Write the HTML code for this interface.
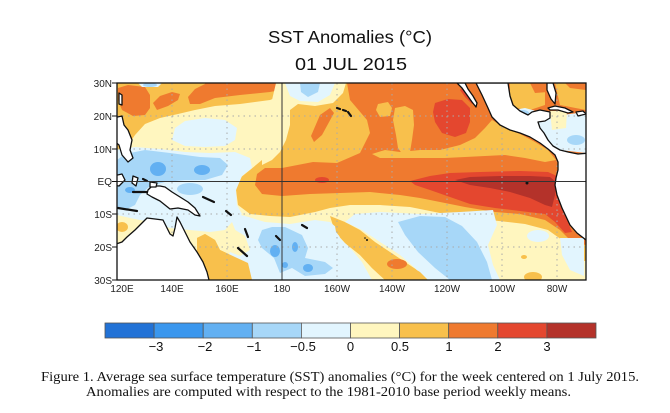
<!DOCTYPE html>
<html><head><meta charset="utf-8"><style>
html,body{margin:0;padding:0;background:#fff;width:670px;height:413px;overflow:hidden}
svg{display:block}
</style></head><body>
<svg width="670" height="413" viewBox="0 0 670 413" xmlns="http://www.w3.org/2000/svg">
<defs><clipPath id="mc"><rect x="117" y="83" width="469" height="197"/></clipPath></defs>

<!-- Title -->
<text x="350" y="43" text-anchor="middle" font-family="Liberation Sans, sans-serif" font-size="17.5" textLength="164" lengthAdjust="spacingAndGlyphs" fill="#111">SST Anomalies (°C)</text>
<text x="351" y="70" text-anchor="middle" font-family="Liberation Sans, sans-serif" font-size="17.5" textLength="112" lengthAdjust="spacingAndGlyphs" fill="#111">01  JUL  2015</text>

<g clip-path="url(#mc)">
<rect x="117" y="83" width="469" height="197" fill="#FFF6BF"/>

<!-- yellow-orange (0.5-1) -->
<g fill="#F8C04C">
<polygon points="117,83 292,83 290,92 270,100 240,104 215,106 195,110 178,114 160,118 145,124 135,135 128,145 117,150"/>
<polygon points="345,83 586,83 586,252 575,250 562,240 548,230 525,224 490,220 450,215 410,207 380,205 350,205 330,208 315,212 290,217 270,216 250,214 238,205 236,190 240,178 250,170 262,160 270,150 275,130 276,112 283,103 300,100 320,104 335,100 343,92"/>
<polygon points="330,216 345,222 360,230 375,242 390,252 405,262 420,272 428,280 385,280 372,268 360,255 345,243 335,232"/>
<polygon points="197,238 205,234 215,240 220,250 235,257 248,263 252,280 207,280 202,265 197,250"/>
<ellipse cx="121" cy="174" rx="7" ry="10"/>
<ellipse cx="122" cy="227" rx="6" ry="5"/>
<ellipse cx="533" cy="277" rx="9" ry="5"/>
<ellipse cx="524" cy="257" rx="3" ry="2"/>
<ellipse cx="584" cy="255" rx="4" ry="6"/>
</g>

<!-- orange (1-2) -->
<g fill="#EF7A2F">
<polygon points="118,88 128,85 145,87 150,95 150,108 145,115 133,116 122,110 118,100"/>
<polygon points="153,103 160,96 172,92 180,94 178,100 168,106 157,110"/>
<polygon points="188,97 195,89 205,84 205,83 292,83 290,88 270,92 240,95 215,98 200,104 190,104"/>
<polygon points="347,83 586,83 586,245 572,242 560,230 545,220 520,214 495,212 465,207 440,202 420,198 400,195 370,192 340,193 310,194 282,196 262,194 255,185 257,174 265,168 282,168 313,162 337,163 360,153 370,133 367,120 350,100"/>
<polygon points="330,108 334,113 322,135 314,142 311,136 320,115"/>
<ellipse cx="397" cy="264" rx="10" ry="5"/>
<ellipse cx="120" cy="174" rx="3" ry="5"/>
</g>

<!-- yellow-orange blobs inside orange -->
<g fill="#F8C04C">
<polygon points="378,104 388,102 392,108 390,116 380,117 376,110"/>
<polygon points="395,108 405,106 413,110 414,125 412,140 410,152 403,155 398,148 396,135 393,120"/>
<polygon points="372,154 385,150 400,152 420,150 440,150 460,145 475,138 485,128 492,120 505,128 520,134 535,142 548,150 556,160 545,162 525,158 505,155 485,156 465,157 445,158 420,158 400,158 380,158"/>
<polygon points="510,83 545,83 545,105 530,110 515,108 510,95"/>
<polygon points="555,83 586,83 586,110 560,105"/>
<ellipse cx="386" cy="155" rx="9" ry="3"/>
</g>
<g fill="#EF7A2F">
<polygon points="530,83 550,83 548,92 535,93"/>
<polygon points="565,83 586,83 586,90 570,88"/>
</g>

<!-- red (2-3) -->
<g fill="#E4472F">
<polygon points="435,103 448,99 462,100 470,108 470,122 466,133 455,137 442,133 435,122 433,112"/>
<polygon points="462,88 468,92 474,100 472,104 465,97 460,90"/>
<polygon points="410,181 430,176 450,173 480,172 520,171 548,172 557,176 556,190 560,205 567,220 572,232 565,233 555,222 545,214 520,211 495,208 470,204 450,197 430,190 415,185"/>
<ellipse cx="322" cy="180" rx="7" ry="3"/>
</g>
<!-- dark red (>3) -->
<polygon fill="#B4322A" points="455,180 470,177 500,176 530,176 550,177 556,182 555,195 552,207 545,205 530,198 510,192 490,188 470,185"/>

<!-- pale yellow top center -->
<polygon fill="#FFF6BF" points="276,83 346,83 343,93 333,103 315,106 298,104 290,110 290,125 286,140 280,152 272,160 262,165 262,140 268,118 272,100"/>

<!-- light cyan (-0.5-0) -->
<g fill="#E2F5FE">
<polygon points="285,83 335,83 330,95 318,102 300,101 290,96"/>
<polygon points="175,128 185,121 205,118 225,120 237,128 235,140 225,146 205,147 185,146 172,140"/>
<polygon points="138,83 162,83 158,87 142,87"/>
<polygon points="117,150 135,147 160,149 185,152 210,153 235,152 250,158 252,168 242,176 236,190 237,205 242,214 232,222 225,230 210,232 190,230 170,228 150,222 130,218 117,215"/>
<polygon points="228,212 245,216 265,222 290,224 315,220 330,222 337,228 340,238 352,250 362,262 372,280 225,280 225,262 232,248 236,232"/>
<polygon points="355,214 380,212 420,214 460,212 493,210 497,225 488,245 493,265 500,280 425,280 415,268 400,255 380,242 362,230 345,222"/>
<ellipse cx="538" cy="236" rx="11" ry="6"/>
<polygon points="560,238 584,238 584,276 570,270 562,255"/>
<polygon points="513,110 525,108 540,112 540,121 525,120 515,115"/>
<polygon points="538,118 586,112 586,153 560,150 548,142 540,130"/>
</g>
<polygon fill="#FFF6BF" points="550,111 567,111 566,128 552,130"/>
<!-- re-draw yellow-orange band over cyan -->
<polygon fill="#F8C04C" points="334,220 345,224 360,231 375,243 390,253 405,263 420,272 428,280 385,280 372,268 360,255 345,243 336,232"/>
<ellipse cx="397" cy="264" rx="10" ry="5" fill="#EF7A2F"/>
<polygon fill="#F8C04C" points="197,238 205,234 215,240 220,250 235,257 248,263 252,280 207,280 202,265 197,250"/>
<polygon fill="#FFF6BF" points="220,232 232,228 245,236 250,250 240,256 225,250"/>

<!-- light blue (-1 to -0.5) -->
<g fill="#A7D7F8">
<polygon points="300,83 320,83 318,92 308,97 301,92"/>
<polygon points="125,154 145,150 170,153 200,157 220,158 228,165 222,175 205,180 185,180 165,182 150,186 140,195 135,205 125,210 117,208 117,160"/>
<ellipse cx="190" cy="189" rx="13" ry="6"/>
<polygon points="258,240 262,230 272,227 285,227 302,235 308,248 305,258 325,262 333,268 325,274 305,276 292,268 280,273 274,258 262,248"/>
<polygon points="398,222 420,216 445,217 462,226 477,242 487,262 492,280 450,280 435,268 418,252 405,235"/>
<ellipse cx="523" cy="113" rx="6" ry="3"/>
<ellipse cx="576" cy="140" rx="9" ry="5"/>
<ellipse cx="150" cy="85" rx="7" ry="2"/>
</g>
<!-- mid blue (-2 to -1) -->
<g fill="#62B0F2">
<ellipse cx="158" cy="169" rx="8" ry="7"/>
<ellipse cx="202" cy="170" rx="8" ry="5"/>
<ellipse cx="130" cy="190" rx="5" ry="3"/>
<ellipse cx="275" cy="251" rx="5" ry="6"/>
<ellipse cx="295" cy="247" rx="3" ry="5"/>
<ellipse cx="308" cy="268" rx="5" ry="4"/>
<ellipse cx="285" cy="265" rx="3" ry="3"/>
</g>

<!-- grid -->
<g stroke="#aaa" stroke-width="1" stroke-dasharray="1.5 4" fill="none">
<line x1="172" y1="83" x2="172" y2="280"/><line x1="227" y1="83" x2="227" y2="280"/>
<line x1="337" y1="83" x2="337" y2="280"/><line x1="392" y1="83" x2="392" y2="280"/>
<line x1="447" y1="83" x2="447" y2="280"/><line x1="502" y1="83" x2="502" y2="280"/>
<line x1="557" y1="83" x2="557" y2="280"/>
<line x1="117" y1="116" x2="586" y2="116"/><line x1="117" y1="149" x2="586" y2="149"/>
<line x1="117" y1="214" x2="586" y2="214"/><line x1="117" y1="247" x2="586" y2="247"/>
</g>

<!-- land -->
<g fill="#fff" stroke="#111" stroke-width="1.3" stroke-linejoin="round">
<polygon points="476,83 482,95 488,108 492,117 500,125 510,130 520,133 530,137 540,143 548,149 555,155 558,162 558,170 556,178 555,185 557,195 562,208 570,225 577,233 586,240 590,240 590,153 578,154 568,152 560,150 553,146 548,140 544,133 540,128 538,122 545,121 550,118 550,112 540,110 532,112 528,115 520,111 513,105 510,96 508,83"/>
<polygon points="457,83 462,88 467,95 472,102 476,107 477,103 473,96 468,89 465,83"/>
<polygon points="547,83 553,83 556,93 555,104 551,99 547,90"/>
<polygon points="548,108 555,106 565,108 573,112 568,113 558,110 550,110"/>
<polygon points="576,112 583,111 586,114 578,116"/>
<polygon points="113,245 122,242 127,237 135,230 143,222 147,218 155,219 163,220 166,226 170,234 173,236 175,228 177,217 180,222 185,232 190,242 197,252 203,262 207,272 210,284 113,284"/>
<polygon points="148,190 152,186 160,186 165,187 172,192 180,197 188,202 195,208 200,216 195,215 188,210 178,208 170,209 165,205 160,201 152,197 147,194"/>
<polygon points="113,118 122,116 124,125 128,130 132,140 130,150 133,158 128,162 122,155 119,145 113,140"/>
<polygon points="119,93 122,95 122,105 119,104"/>
<polygon points="113,176 122,174 125,180 119,186 113,185"/>
<polygon points="133,176 138,178 136,186 132,183"/>
<polygon points="150,182 157,183 156,187 150,187"/>
</g>
<g stroke="#111" stroke-width="2.2" stroke-linecap="round" fill="none">
<line x1="133" y1="192" x2="147" y2="192"/>
<line x1="143" y1="179" x2="147" y2="181"/>
<line x1="203" y1="197" x2="214" y2="202"/>
<line x1="226" y1="211" x2="231" y2="215"/>
<line x1="245" y1="229" x2="248" y2="237"/>
<line x1="238" y1="248" x2="247" y2="256"/>
<line x1="118" y1="208" x2="137" y2="211"/>
<line x1="276" y1="236" x2="280" y2="240"/>
<line x1="302" y1="225" x2="307" y2="228"/>
<line x1="337" y1="108" x2="340" y2="109"/>
<line x1="343" y1="110" x2="346" y2="111"/>
<line x1="348" y1="112" x2="351" y2="116"/>
</g>
<g fill="#111">
<circle cx="527" cy="183" r="1.5"/>
<circle cx="367" cy="240" r="1"/>
<circle cx="365" cy="238" r="0.8"/>
</g>

<!-- solid lines -->
<line x1="282" y1="83" x2="282" y2="280" stroke="#333" stroke-width="1"/>
<line x1="117" y1="181.5" x2="586" y2="181.5" stroke="#333" stroke-width="1"/>
</g>

<!-- frame -->
<rect x="117" y="83" width="469" height="197" fill="none" stroke="#111" stroke-width="1.3"/>
<g stroke="#111" stroke-width="1">
<line x1="112" y1="83" x2="117" y2="83"/><line x1="112" y1="116" x2="117" y2="116"/>
<line x1="112" y1="149" x2="117" y2="149"/><line x1="112" y1="181.5" x2="117" y2="181.5"/>
<line x1="112" y1="214" x2="117" y2="214"/><line x1="112" y1="247" x2="117" y2="247"/>
<line x1="112" y1="280" x2="117" y2="280"/>
</g>

<!-- axis labels -->
<g font-family="Liberation Sans, sans-serif" font-size="10" fill="#222" text-anchor="end">
<text x="112" y="87">30N</text><text x="112" y="120">20N</text><text x="112" y="153">10N</text>
<text x="112" y="185">EQ</text><text x="112" y="218">10S</text><text x="112" y="251">20S</text>
<text x="112" y="284">30S</text>
</g>
<g font-family="Liberation Sans, sans-serif" font-size="10" fill="#222" text-anchor="middle">
<text x="122" y="292">120E</text><text x="172" y="292">140E</text><text x="227" y="292">160E</text>
<text x="282" y="292">180</text><text x="337" y="292">160W</text><text x="392" y="292">140W</text>
<text x="447" y="292">120W</text><text x="502" y="292">100W</text><text x="557" y="292">80W</text>
</g>

<!-- colorbar -->
<g stroke="#555" stroke-width="0.8">
<rect x="105" y="323" width="49.1" height="15" fill="#2272D6"/>
<rect x="154.1" y="323" width="49.1" height="15" fill="#3A97EE"/>
<rect x="203.2" y="323" width="49.1" height="15" fill="#62B0F2"/>
<rect x="252.3" y="323" width="49.1" height="15" fill="#A7D7F8"/>
<rect x="301.4" y="323" width="49.1" height="15" fill="#E2F5FE"/>
<rect x="350.5" y="323" width="49.1" height="15" fill="#FFF6BF"/>
<rect x="399.6" y="323" width="49.1" height="15" fill="#F8C04C"/>
<rect x="448.7" y="323" width="49.1" height="15" fill="#EF7A2F"/>
<rect x="497.8" y="323" width="49.1" height="15" fill="#E4472F"/>
<rect x="546.9" y="323" width="49.1" height="15" fill="#B4322A"/>
</g>
<g font-family="Liberation Sans, sans-serif" font-size="13" fill="#111" text-anchor="middle">
<text x="156" y="351">−3</text><text x="205" y="351">−2</text><text x="254" y="351">−1</text>
<text x="303" y="351">−0.5</text><text x="350.5" y="351">0</text><text x="400" y="351">0.5</text>
<text x="449" y="351">1</text><text x="498" y="351">2</text><text x="547" y="351">3</text>
</g>

<!-- caption -->
<g font-family="Liberation Serif, serif" font-size="13.3" fill="#111">
<text x="41" y="381" textLength="598" lengthAdjust="spacingAndGlyphs">Figure 1. Average sea surface temperature (SST) anomalies (°C) for the week centered on 1 July 2015.</text>
<text x="86" y="396" textLength="485" lengthAdjust="spacingAndGlyphs">Anomalies are computed with respect to the 1981-2010 base period weekly means.</text>
</g>
</svg>
</body></html>
